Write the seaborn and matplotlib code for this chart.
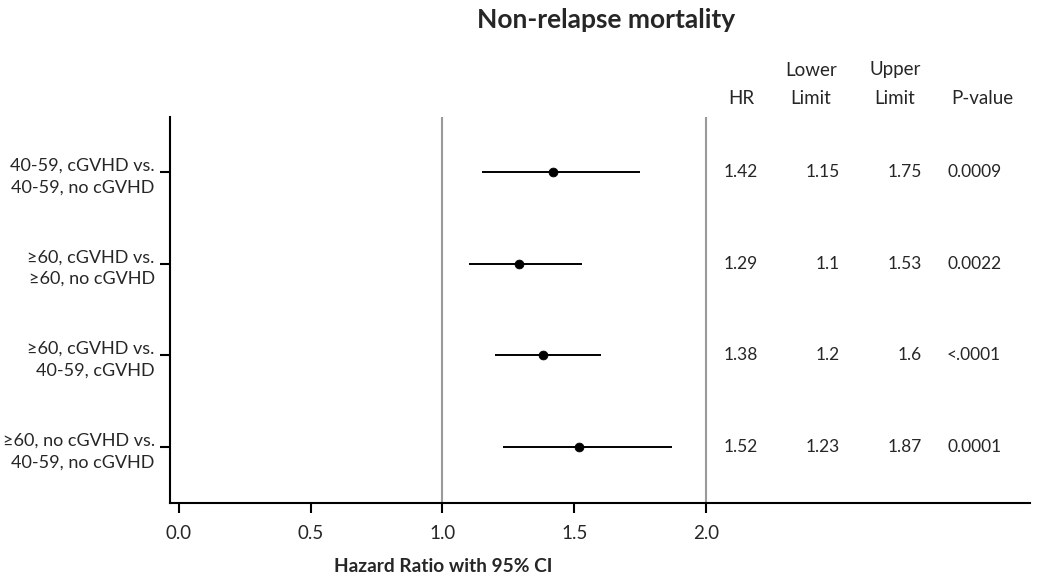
import matplotlib
matplotlib.use("Agg")
import matplotlib.pyplot as plt
import seaborn as sns
import pandas as pd

comparisons = ["40-59, cGVHD vs.\n40-59, no cGVHD",
               "≥60, cGVHD vs.\n≥60, no cGVHD",
               "≥60, cGVHD vs.\n40-59, cGVHD",
               "≥60, no cGVHD vs.\n40-59, no cGVHD"]
hr = [1.42, 1.29, 1.38, 1.52]
lower = [1.15, 1.1, 1.2, 1.23]
upper = [1.75, 1.53, 1.6, 1.87]
pvals = ["0.0009", "0.0022", "<.0001", "0.0001"]
hr_text = ["1.42", "1.29", "1.38", "1.52"]
lower_text = ["1.15", "1.1", "1.2", "1.23"]
upper_text = ["1.75", "1.53", "1.6", "1.87"]
xticks = [0.0, 0.5, 1.0, 1.5, 2.0]
ref_lines = [1.0, 2.0]

sns.set_theme(style="white")
plt.rcParams['font.family'] = ['Lato', 'DejaVu Sans']

df = pd.DataFrame({"comp": comparisons, "hr": hr, "lo": lower, "hi": upper,
                   "row": list(range(1, len(comparisons) + 1))})

W, H = 1050, 583
fig = plt.figure(figsize=(10.5, 5.83), dpi=100)
ax = fig.add_axes([170/W, 1-503/H, (1030-170)/W, (503-117)/H])

for r in ref_lines:
    ax.axvline(r, color="#9a9a9a", lw=1.5, zorder=1)

ax.hlines(df["row"], df["lo"], df["hi"], color="black", lw=1.4, zorder=2)
sns.scatterplot(data=df, x="hr", y="row", ax=ax, color="black", s=40,
                edgecolor="black", linewidth=0.6, zorder=3, legend=False)

ax.set_xlim(-0.034, 3.23)
ax.set_ylim(4.61, 0.4)
ax.set_xticks(xticks)
ax.set_xticklabels([f"{t:.1f}" for t in xticks], fontsize=13.5)
ax.set_yticks(df["row"])
ax.set_yticklabels(comparisons, fontsize=13, ha="right", linespacing=1.45)
ax.set_xlabel("")
ax.set_ylabel("")
for s in ["top", "right"]:
    ax.spines[s].set_visible(False)
for s in ["left", "bottom"]:
    ax.spines[s].set_color("black")
    ax.spines[s].set_linewidth(1.5)
ax.tick_params(axis="both", which="major", length=7, width=1.5, color="black",
               bottom=True, left=True)
ax.tick_params(axis="y", pad=4)
ax.tick_params(axis="x", pad=9)

# table columns (data x positions)
col_hr, col_lo, col_hi, col_p = 2.131, 2.509, 2.820, 2.915
for i, row in enumerate(df["row"]):
    ax.text(col_hr, row, hr_text[i], ha="center", va="center", fontsize=12.5)
    ax.text(col_lo, row, lower_text[i], ha="right", va="center", fontsize=12.5)
    ax.text(col_hi, row, upper_text[i], ha="right", va="center", fontsize=12.5)
    ax.text(col_p, row, pvals[i], ha="left", va="center", fontsize=12.5)

hdr = 13.5
fig.text(741/W, 1-98/H, "HR", ha="center", va="center", fontsize=hdr)
fig.text(811/W, 1-70/H, "Lower", ha="center", va="center", fontsize=hdr)
fig.text(811/W, 1-98/H, "Limit", ha="center", va="center", fontsize=hdr)
fig.text(895/W, 1-70/H, "Upper", ha="center", va="center", fontsize=hdr)
fig.text(895/W, 1-98/H, "Limit", ha="center", va="center", fontsize=hdr)
fig.text(982/W, 1-98/H, "P-value", ha="center", va="center", fontsize=hdr)

fig.text(606/W, 1-20/H, "Non-relapse mortality", ha="center", va="center",
         fontsize=19, fontweight="bold")
fig.text(443/W, 1-567/H, "Hazard Ratio with 95% CI", ha="center", va="center",
         fontsize=13.8, fontweight="bold")

fig.savefig("out.png", dpi=100)
